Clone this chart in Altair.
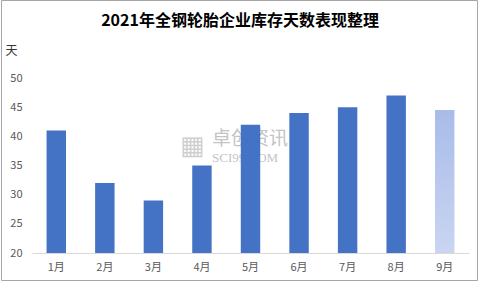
import altair as alt
import pandas as pd

months = ["1月", "2月", "3月", "4月", "5月", "6月", "7月", "8月", "9月"]
days = [41, 32, 29, 35, 42, 44, 45, 47, 44.5]
highlight = [False, False, False, False, False, False, False, False, True]
title_text = "2021年全钢轮胎企业库存天数表现整理"
y_ticks = [20, 25, 30, 35, 40, 45, 50]

df = pd.DataFrame({"month": months, "days": days, "hl": highlight})

FONT = "Noto Sans CJK SC"

x_enc = alt.X("month:N", sort=months, title=None,
              scale=alt.Scale(paddingInner=0.6, paddingOuter=0.3),
              axis=alt.Axis(labelAngle=0, ticks=False, domainColor="#d9d9d9",
                            labelColor="#595959", labelFont=FONT, labelFontSize=11,
                            labelPadding=8, zindex=1))
y_enc = alt.Y("days:Q", title="天",
              scale=alt.Scale(domain=[20, 50], nice=False, zero=False),
              axis=alt.Axis(values=y_ticks, grid=False, domain=False, ticks=False,
                            tickSize=0, labelPadding=10, labelColor="#595959",
                            labelFont=FONT, labelFontSize=11,
                            titleAngle=0, titleX=-27, titleY=-21, titleAlign="left",
                            titleBaseline="bottom", titleFont=FONT, titleFontSize=12,
                            titleFontWeight="normal", titleColor="#333333"))

wm = alt.Chart(pd.DataFrame({"t": ["卓创资讯"]})).mark_text(
    font=FONT, fontSize=19, color="#c4c4c4", align="left", baseline="middle"
).encode(x=alt.value(180), y=alt.value(61), text="t:N")
wm2 = alt.Chart(pd.DataFrame({"t": ["SCI99.COM"]})).mark_text(
    font="Liberation Serif", fontSize=13, color="#c4c4c4", align="left", baseline="middle"
).encode(x=alt.value(180), y=alt.value(80), text="t:N")
wm_icon = alt.Chart(pd.DataFrame({"t": ["▦"]})).mark_text(
    font="DejaVu Sans", fontSize=26, color="#cfcfcf", align="left", baseline="middle"
).encode(x=alt.value(148), y=alt.value(68), text="t:N")

bars = alt.Chart(df).transform_filter("!datum.hl").mark_bar(
    color="#4472c4", clip=True).encode(x=x_enc, y=y_enc)
bar9 = alt.Chart(df).transform_filter("datum.hl").mark_bar(
    clip=True,
    color=alt.LinearGradient(gradient="linear",
                             stops=[alt.GradientStop(color="#a9bce9", offset=0),
                                    alt.GradientStop(color="#e3e9f7", offset=1)],
                             x1=0, x2=0, y1=0, y2=1)
).encode(x=x_enc, y=y_enc)

title = alt.Chart(pd.DataFrame({"t": [title_text]})).mark_text(
    font=FONT, fontSize=16, fontWeight="bold", color="#000000", align="center",
    baseline="middle"
).encode(x=alt.value(208), y=alt.value(-57), text="t:N")

frame = alt.Chart(pd.DataFrame({"a": [0]})).mark_rect(
    fill=None, stroke="#a6a6a6", strokeWidth=1
).encode(x=alt.value(-30.5), x2=alt.value(445.5), y=alt.value(-77.5), y2=alt.value(202.5))

chart = alt.layer(wm_icon, wm, wm2, bars, bar9, title, frame).properties(
    width=437, height=175,
    autosize=alt.AutoSizeParams(type="none"),
    padding={"left": 32, "top": 78, "right": 11, "bottom": 35},
    background="white",
).configure_view(stroke=None)

chart.save("out.html", embed_options={"renderer": "svg", "actions": False})
